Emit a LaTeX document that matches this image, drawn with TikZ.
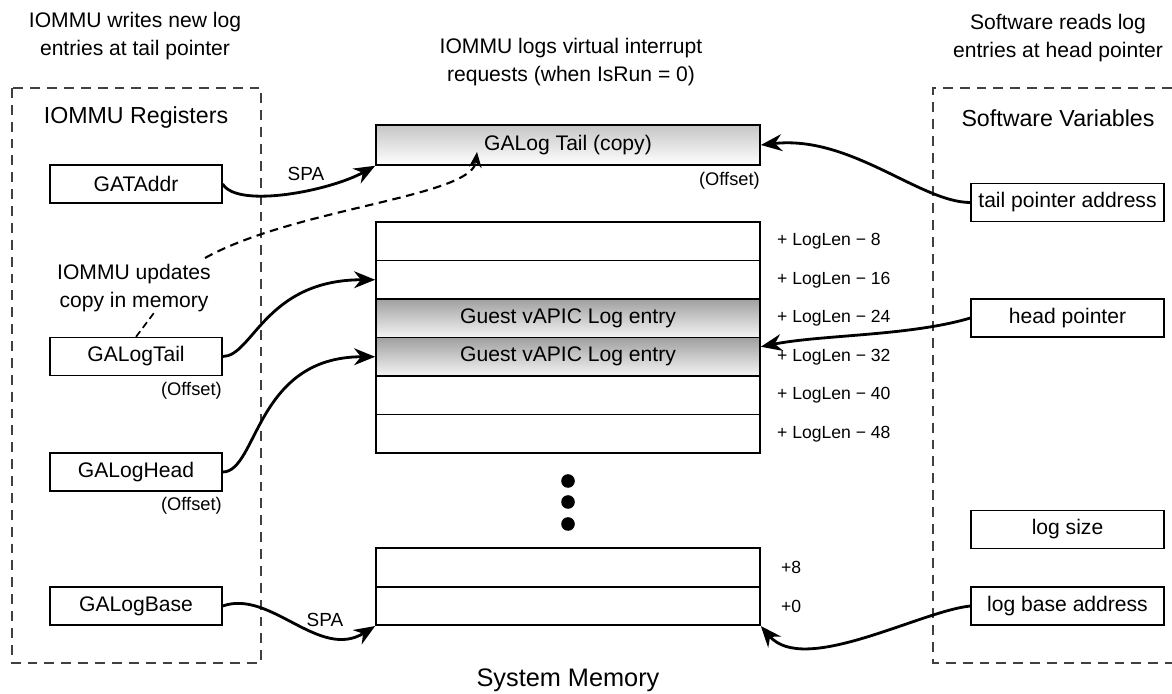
\documentclass[tikz,border=0pt]{standalone}
\usepackage{fontspec}
\setmainfont{Liberation Sans}
\usetikzlibrary{arrows.meta}

\begin{document}
\begin{tikzpicture}[x=0.025cm, y=-0.025cm,
        font=\fontsize{15}{20}\selectfont,
        reg/.style={draw, line width=0.9pt, minimum width=4.3cm, minimum height=0.95cm, inner sep=0pt},
        var/.style={reg, minimum width=4.825cm},
        cell/.style={draw, line width=1.1pt, fill=white, minimum width=9.6cm, minimum height=0.9625cm, inner sep=0pt},
        entry/.style={cell, top color=gray!75, bottom color=gray!8},
        frame/.style={line width=1pt, dash pattern=on 7pt off 5pt, black!75},
        ptr/.style={line width=2pt, -{Stealth[length=15pt, width=12pt]}},
        upd/.style={line width=1.5pt, dash pattern=on 6pt off 4pt, -{Stealth[length=11pt, width=9pt]}},
        offlbl/.style={font=\fontsize{13}{15}\selectfont, anchor=east, inner sep=0pt},
        lenlbl/.style={font=\fontsize{12.5}{15}\selectfont, anchor=west, inner sep=0pt},
        spalbl/.style={font=\fontsize{13.5}{15}\selectfont}]

    \useasboundingbox (0,0) rectangle (1172,694);

    % titles
    \node[align=center] (wrtitle) at (135,36) {IOMMU writes new log\\entries at tail pointer};
    \node[align=center] (logtitle) at (571,62) {IOMMU logs virtual interrupt\\requests (when IsRun = 0)};
    \node[align=center] (rdtitle) at (1058,38) {Software reads log\\entries at head pointer};

    % frames
    \draw[frame] (12,88) rectangle (261,663);
    \draw[frame] (1172,88) -- (933,88) -- (933,663) -- (1172,663);
    \node[font=\fontsize{16.5}{20}\selectfont] (regs) at (136,118) {IOMMU Registers};
    \node[font=\fontsize{16.5}{20}\selectfont] (vars) at (1058,118) {Software Variables};

    % IOMMU registers
    \node[reg] (gat) at (136,184) {GATAddr};
    \node[reg] (tail) at (136,356.5) {GALogTail};
    \node[reg] (head) at (136,472) {GALogHead};
    \node[reg] (base) at (136,606) {GALogBase};
    \node[offlbl] (tailoff) at (222,391) {(Offset)};
    \node[offlbl] (headoff) at (222,506) {(Offset)};
    \node[align=center] (updtxt) at (134,288) {IOMMU updates\\copy in memory};

    % software variables
    \node[var] (tailptr) at (1067.5,202.5) {tail pointer address};
    \node[var] (hp) at (1067.5,318) {head pointer};
    \node[var] (logsize) at (1067.5,529.5) {log size};
    \node[var] (lb) at (1067.5,606) {log base address};

    % system memory
    \node[cell, top color=gray!45, bottom color=white, minimum height=1cm] (copy) at (568,145) {GALog Tail (copy)};
    \node[offlbl] (copyoff) at (760,181) {(Offset)};
    \foreach \i/\s/\t in {1/cell/, 2/cell/, 3/entry/Guest vAPIC Log entry, 4/entry/Guest vAPIC Log entry, 5/cell/, 6/cell/}
        \node[\s] (r\i) at (568,202.75+38.5*\i) {\t};
    \foreach \i/\n in {1/8, 2/16, 3/24, 4/32, 5/40, 6/48}
        \node[lenlbl] (len\n) at ([xshift=0.4cm]r\i.east) {+ LogLen − \n};
    \foreach \y in {481,502,524}
        \fill (568,\y) circle (0.17cm);
    \node[cell] (b1) at (568,567.5) {};
    \node[cell] (b0) at (568,606) {};
    \node[lenlbl] (len8) at ([xshift=0.5cm]b1.east) {+8};
    \node[lenlbl] (len0) at ([xshift=0.5cm]b0.east) {+0};
    \node[font=\fontsize{18}{20}\selectfont] (sysmem) at (568,680) {System Memory};

    % pointers
    \draw[ptr] (gat.east) .. controls +(15,25) and +(-45,25) .. (copy.south west);
    \node[spalbl] (spa1) at (306,174) {SPA};
    \draw[ptr] (tailptr.west) .. controls +(-50,0) and +(90,-10) .. (copy.east);
    \coordinate (updfrom) at (205,258);
    \coordinate (updto) at (477,152);
    \draw[upd] (updfrom) .. controls +(90,-50) and +(-5,45) .. (updto);
    \draw[line width=1.2pt, dash pattern=on 5pt off 3pt] (tail.north) -- ++(18,-24);
    \draw[ptr] (tail.east) .. controls +(30,0) and +(-110,0) .. (r2.west);
    \draw[ptr] (head.east) .. controls +(35,0) and +(-120,0) .. (r4.west);
    \draw[ptr] (hp.west) .. controls +(-60,18) and +(60,-12) .. ([yshift=0.25cm]r4.east);
    \draw[ptr] (base.east) .. controls +(48,-17) and +(-56,35) .. (b0.south west);
    \node[spalbl] (spa2) at (325,620) {SPA};
    \draw[ptr] (lb.west) .. controls +(-50,5) and +(43,50) .. (b0.south east);

\end{tikzpicture}
\end{document}
